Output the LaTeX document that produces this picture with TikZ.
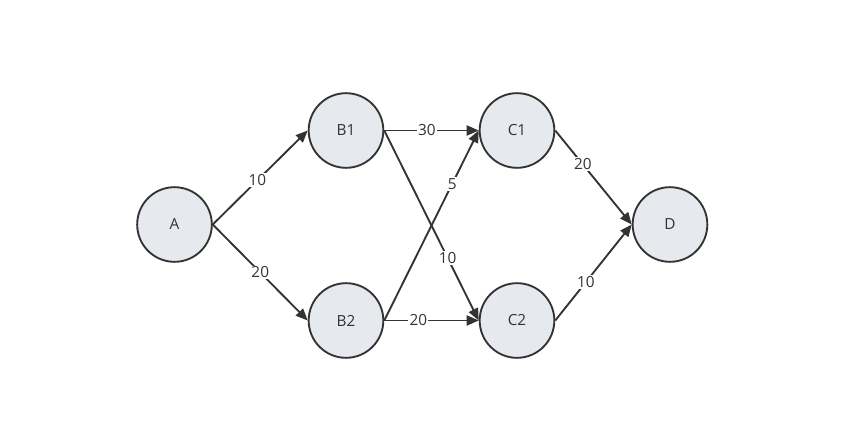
\documentclass[tikz,border=0pt]{standalone}
\usepackage{fontspec}
\setmainfont{Open Sans}
\usetikzlibrary{arrows.meta}
\definecolor{nodefill}{RGB}{230,233,237}
\definecolor{ink}{RGB}{51,51,51}
\tikzset{
  vertex/.style={circle, draw=ink, line width=1.4pt, fill=nodefill, minimum size=56pt, inner sep=0pt, text=ink, font=\fontsize{11.5}{13}\selectfont},
  edge/.style={draw=ink, line width=1.4pt, -{Triangle[length=9pt,width=7.5pt]}},
  wlabel/.style={fill=white, inner sep=1pt, text=ink, font=\fontsize{11.5}{13}\selectfont}
}
\begin{document}
\begin{tikzpicture}[x=0.75pt,y=-0.75pt]
\useasboundingbox[fill=white] (0,0) rectangle (844,421);
\node[vertex] (A) at (174.5,224.5) {A};
\node[vertex] (B1) at (346,130.5) {B1};
\node[vertex] (B2) at (346,320.5) {B2};
\node[vertex] (C1) at (517,130.5) {C1};
\node[vertex] (C2) at (517,320.5) {C2};
\node[vertex] (D) at (670,224.5) {D};
\draw[edge] (A.east) -- node[wlabel, pos=0.47] {10} (B1.west);
\draw[edge] (A.east) -- node[wlabel, pos=0.5] {20} (B2.west);
\draw[edge] (B1.east) -- node[wlabel, pos=0.45] {30} (C1.west);
\draw[edge] (B1.east) -- node[wlabel, pos=0.67] {10} (C2.west);
\draw[edge] (B2.east) -- node[wlabel, pos=0.72] {5} (C1.west);
\draw[edge] (B2.east) -- node[wlabel, pos=0.36] {20} (C2.west);
\draw[edge] (C1.east) -- node[wlabel, pos=0.36] {20} (D.west);
\draw[edge] (C2.east) -- node[wlabel, pos=0.4] {10} (D.west);
\end{tikzpicture}
\end{document}
